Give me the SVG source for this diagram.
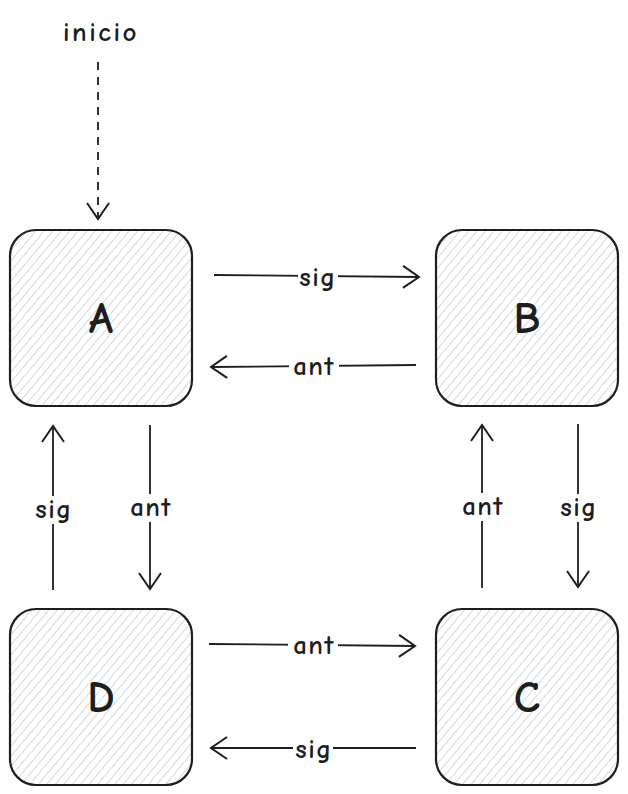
<svg xmlns="http://www.w3.org/2000/svg" width="628" height="794" viewBox="0 0 628 794">
<style>
.box{fill:url(#hatch);stroke:#1e1e1e;stroke-width:2.2}
.node{font-family:"Comic Neue","Liberation Sans",sans-serif;font-size:44px;font-weight:bold;fill:#1e1e1e;text-anchor:middle;dominant-baseline:central}
.conn{stroke:#1e1e1e;stroke-width:1.8;fill:none;marker-end:url(#arr)}
.lbl{font-family:"Comic Neue","Liberation Sans",sans-serif;font-size:27px;font-weight:bold;letter-spacing:1.5px;fill:#1e1e1e;text-anchor:middle;dominant-baseline:central}
.bg{fill:#ffffff}
</style>
<defs>
<pattern id="hatch" patternUnits="userSpaceOnUse" width="6.5" height="6.5" patternTransform="rotate(40)">
<rect width="6.5" height="6.5" fill="#ffffff"/>
<line x1="0" y1="0" x2="0" y2="6.5" stroke="#bfc6ce" stroke-width="1.3"/>
</pattern>
<marker id="arr" markerUnits="userSpaceOnUse" markerWidth="30" markerHeight="30" refX="17" refY="11" orient="auto" viewBox="0 0 30 22">
<path d="M1,0 L17,11 L1,22" fill="none" stroke="#1e1e1e" stroke-width="2"/>
</marker>
</defs>
<g id="node-A"><rect class="box" x="10" y="230" width="182" height="176" rx="26"/><text class="node" x="101" y="318">A</text></g>
<g id="node-B"><rect class="box" x="436" y="230" width="182" height="176" rx="26"/><text class="node" x="527" y="318">B</text></g>
<g id="node-D"><rect class="box" x="10" y="609" width="182" height="176" rx="26"/><text class="node" x="101" y="697">D</text></g>
<g id="node-C"><rect class="box" x="436" y="609" width="182" height="176" rx="26"/><text class="node" x="527" y="697">C</text></g>
<g id="start"><text class="lbl" x="101" y="32" style="letter-spacing:2.5px">inicio</text></g>
<g id="connectors">
<line class="conn" x1="98" y1="62" x2="98" y2="219" stroke-dasharray="8,7" stroke-width="2"/>
<line class="conn" x1="214" y1="275" x2="419" y2="277"/>
<line class="conn" x1="416" y1="365" x2="211" y2="367"/>
<line class="conn" x1="53" y1="590" x2="53" y2="426"/>
<line class="conn" x1="150" y1="425" x2="150" y2="589"/>
<line class="conn" x1="482" y1="588" x2="482" y2="425"/>
<line class="conn" x1="578" y1="424" x2="578" y2="587"/>
<line class="conn" x1="209" y1="644" x2="415" y2="646"/>
<line class="conn" x1="416" y1="748" x2="211" y2="748"/>
<g id="labels">
<rect class="bg" x="298" y="264" width="40" height="26"/><text class="lbl" x="318" y="277">sig</text>
<rect class="bg" x="289" y="354" width="50" height="26"/><text class="lbl" x="314" y="366">ant</text>
<rect class="bg" x="33" y="496" width="40" height="28"/><text class="lbl" x="54" y="509">sig</text>
<rect class="bg" x="125" y="494" width="50" height="28"/><text class="lbl" x="151" y="507">ant</text>
<rect class="bg" x="457" y="493" width="50" height="28"/><text class="lbl" x="483" y="506">ant</text>
<rect class="bg" x="558" y="494" width="40" height="28"/><text class="lbl" x="579" y="507">sig</text>
<rect class="bg" x="288" y="632" width="50" height="26"/><text class="lbl" x="314" y="645">ant</text>
<rect class="bg" x="293" y="735" width="40" height="26"/><text class="lbl" x="314" y="749">sig</text>
</g>
</g>
</svg>
